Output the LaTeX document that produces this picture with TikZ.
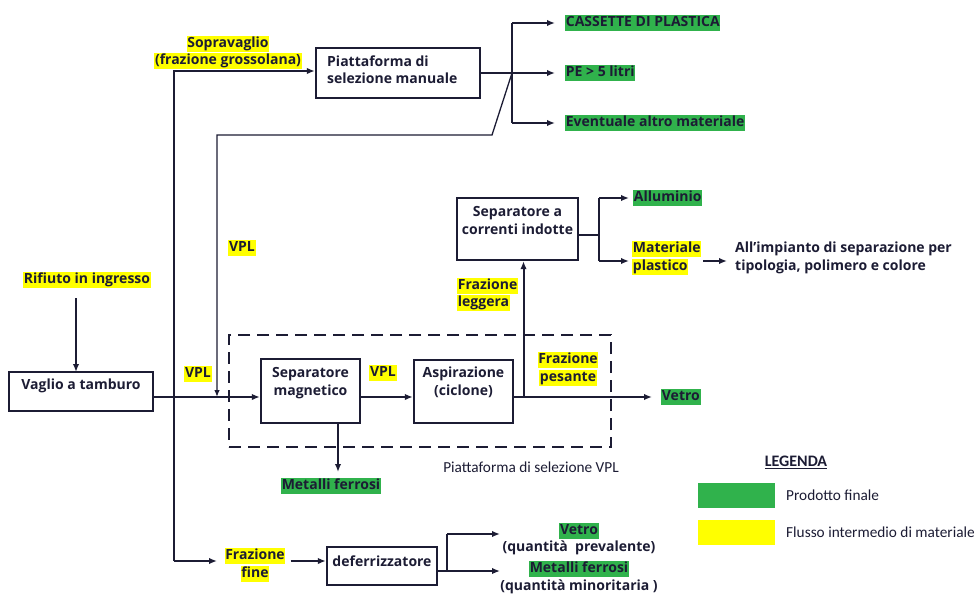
\documentclass[tikz,border=0pt]{standalone}
\usepackage{fontspec}
\setmainfont{Open Sans}
\newfontfamily\calib{Carlito}
\usetikzlibrary{arrows.meta,calc}
\definecolor{ink}{RGB}{28,28,52}
\definecolor{hlgreen}{RGB}{48,178,76}
\definecolor{hlyellow}{RGB}{255,255,0}
\newcommand\hlstrut{\rule[-4pt]{0pt}{14.4pt}}
\newcommand\hlY[1]{{\setlength\fboxsep{0.7pt}\colorbox{hlyellow}{\hlstrut#1}}}
\newcommand\hlG[1]{{\setlength\fboxsep{0.7pt}\colorbox{hlgreen}{\hlstrut#1}}}
\begin{document}
\begin{tikzpicture}[x=1pt,y=-1pt,
  bf/.style={font=\fontsize{14}{17.5}\selectfont\bfseries, text=ink, inner sep=0pt, align=center},
  reg/.style={font=\calib\fontsize{15.3}{17}\selectfont, text=ink, inner sep=0pt},
  box/.style={draw=ink, line width=2.4pt, inner sep=0pt},
  ln/.style={draw=ink, line width=2pt},
  arr/.style={draw=ink, line width=2pt, -{Latex[length=8pt,width=6.5pt]}},
  thinarr/.style={draw=ink, line width=1.3pt, -{Latex[length=7pt,width=5.5pt]}},
  legbox/.style={minimum width=77pt, minimum height=25pt, inner sep=0pt}]
\useasboundingbox (0,0) rectangle (976,594);
\fill[white] (0,0) rectangle (976,594);

% dashed platform
\node[draw=ink, line width=2.4pt, dash pattern=on 12pt off 7pt, minimum width=382pt, minimum height=112pt, inner sep=0pt] (dashbox) at (420,391) {};
\node[reg] (platlab) at (531,467) {Piattaforma di selezione VPL};

% boxes
\node[box, minimum width=164pt, minimum height=50pt] (manual) at (398,73) {};
\node[bf, align=left, anchor=west] (manualt) at (327,69.5) {Piattaforma di\\selezione manuale};
\node[box, minimum width=144pt, minimum height=39pt] (vaglio) at (81,391.5) {};
\node[bf] (vagliot) at (81,386) {Vaglio a tamburo};
\node[box, minimum width=99pt, minimum height=64pt] (sepmag) at (310.5,391) {};
\node[bf] (sepmagt) at (310.5,383) {Separatore\\magnetico};
\node[box, minimum width=99pt, minimum height=63pt] (aspir) at (463.5,391.5) {};
\node[bf] (aspirt) at (463.5,382.5) {Aspirazione\\(ciclone)};
\node[box, minimum width=121pt, minimum height=62pt] (sepcor) at (517.5,229) {};
\node[bf] (sepcort) at (517.5,220.5) {Separatore a\\correnti indotte};
\node[box, minimum width=110pt, minimum height=38pt] (defer) at (382,566) {};
\node[bf] (defert) at (382,561) {deferrizzatore};

% labels
\node[bf] (sopra) at (228,52.5) {\hlY{Sopravaglio}\\\hlY{(frazione grossolana)}};
\node[bf, anchor=west] (cass) at (565,23) {\hlG{CASSETTE DI PLASTICA}};
\node[bf, anchor=west] (pe) at (565,73) {\hlG{PE > 5 litri}};
\node[bf, anchor=west] (event) at (565,123) {\hlG{Eventuale altro materiale}};
\node[bf] (vpl1) at (242,248) {\hlY{VPL}};
\node[bf] (vpl2) at (198,374) {\hlY{VPL}};
\node[bf] (vpl3) at (383,373) {\hlY{VPL}};
\node[bf] (rif) at (87,280) {\hlY{Rifiuto in ingresso}};
\node[bf, align=left, anchor=west] (fleg) at (457,294.5) {\hlY{Frazione}\\\hlY{leggera}};
\node[bf] (fpes) at (568,369) {\hlY{Frazione}\\\hlY{pesante}};
\node[bf, anchor=west] (vetro) at (661,397) {\hlG{Vetro}};
\node[bf, anchor=west] (allu) at (633,198) {\hlG{Alluminio}};
\node[bf, align=left, anchor=west] (mplast) at (632,258) {\hlY{Materiale}\\\hlY{plastico}};
\node[bf, align=left, anchor=west] (impianto) at (735,258) {All’impianto di separazione per\\tipologia, polimero e colore};
\node[bf] (mfer) at (331,486) {\hlG{Metalli ferrosi}};
\node[bf] (ffine) at (255,565) {\hlY{Frazione}\\\hlY{fine}};
\node[bf] (vetro2) at (579,531) {\hlG{Vetro}};
\node[bf] (prev) at (579,548) {(quantità\ \ prevalente)};
\node[bf] (mfer2) at (579,569) {\hlG{Metalli ferrosi}};
\node[bf] (minor) at (579,587) {(quantità minoritaria )};

% legend
\node[font=\calib\bfseries\fontsize{16}{18}\selectfont, text=ink, inner sep=0pt] (leg) at (796,462) {\underline{LEGENDA}};
\node[legbox, fill=hlgreen] (lg) at (736.5,495.5) {};
\node[legbox, fill=hlyellow] (ly) at (736.5,532) {};
\node[reg, anchor=west] (lgt) at (786,495) {Prodotto finale};
\node[reg, anchor=west] (lyt) at (786,532) {Flusso intermedio di materiale};

% coordinates
\coordinate (jm) at (512,73);
\coordinate (jtop) at (512,23);
\coordinate (jbot) at (512,123);
\coordinate (d1) at (492,135);
\coordinate (d2) at (217,135);
\coordinate (vplin) at (217,397);
\coordinate (rifa) at (76,298);
\coordinate (vagin) at (76,372);
\coordinate (vtop) at (174,71);
\coordinate (vbot) at (174,561);
\coordinate (ffa) at (217,561);
\coordinate (br) at (523.5,397);
\coordinate (jc) at (599,235);
\coordinate (jct) at (599,198);
\coordinate (jcb) at (599,261);
\coordinate (mfa) at (338,472);
\coordinate (jd) at (447,571);
\coordinate (jdt) at (447,534);
\coordinate (vetro2a) at (500,534);
\coordinate (mfer2a) at (500,571);

% connectors
\draw[ln] (manual.east) -- (jm);
\draw[ln] (jtop) -- (jbot);
\draw[arr, shorten >=10pt] (jtop) -- (cass.west);
\draw[arr, shorten >=10pt] (jm) -- (pe.west);
\draw[arr, shorten >=10pt] (jbot) -- (event.west);
\draw[thinarr] (jm) -- (d1) -- (d2) -- (vplin);
\draw[arr] (rifa) -- (vagin);
\draw[arr] (vbot) -- (vtop) -- (vtop -| manual.west);
\draw[arr] (vbot) -- (ffa);
\draw[arr] (vaglio.east |- vplin) -- (vplin -| sepmag.west);
\draw[arr] (sepmag.east |- vplin) -- (aspir.west |- vplin);
\draw[arr, shorten >=9pt] (aspir.east |- vplin) -- (vetro.west);
\draw[arr] (br) -- (br |- sepcor.south);
\draw[ln] (sepcor.east |- jc) -- (jc);
\draw[ln] (jct) -- (jcb);
\draw[arr, shorten >=4pt] (jct) -- (allu.west);
\draw[arr, shorten >=3pt] (jcb) -- (jcb -| mplast.west);
\draw[arr, shorten <=2pt, shorten >=8pt] (mplast.east |- jcb) -- (impianto.west |- jcb);
\draw[arr] (mfa |- sepmag.south) -- (mfa);
\draw[arr, shorten <=5pt] (ffine.east |- ffa) -- (defer.west |- ffa);
\draw[ln] (defer.east |- jd) -- (jd) -- (jdt);
\draw[arr] (jdt) -- (vetro2a);
\draw[arr] (jd) -- (mfer2a);
\end{tikzpicture}
\end{document}
